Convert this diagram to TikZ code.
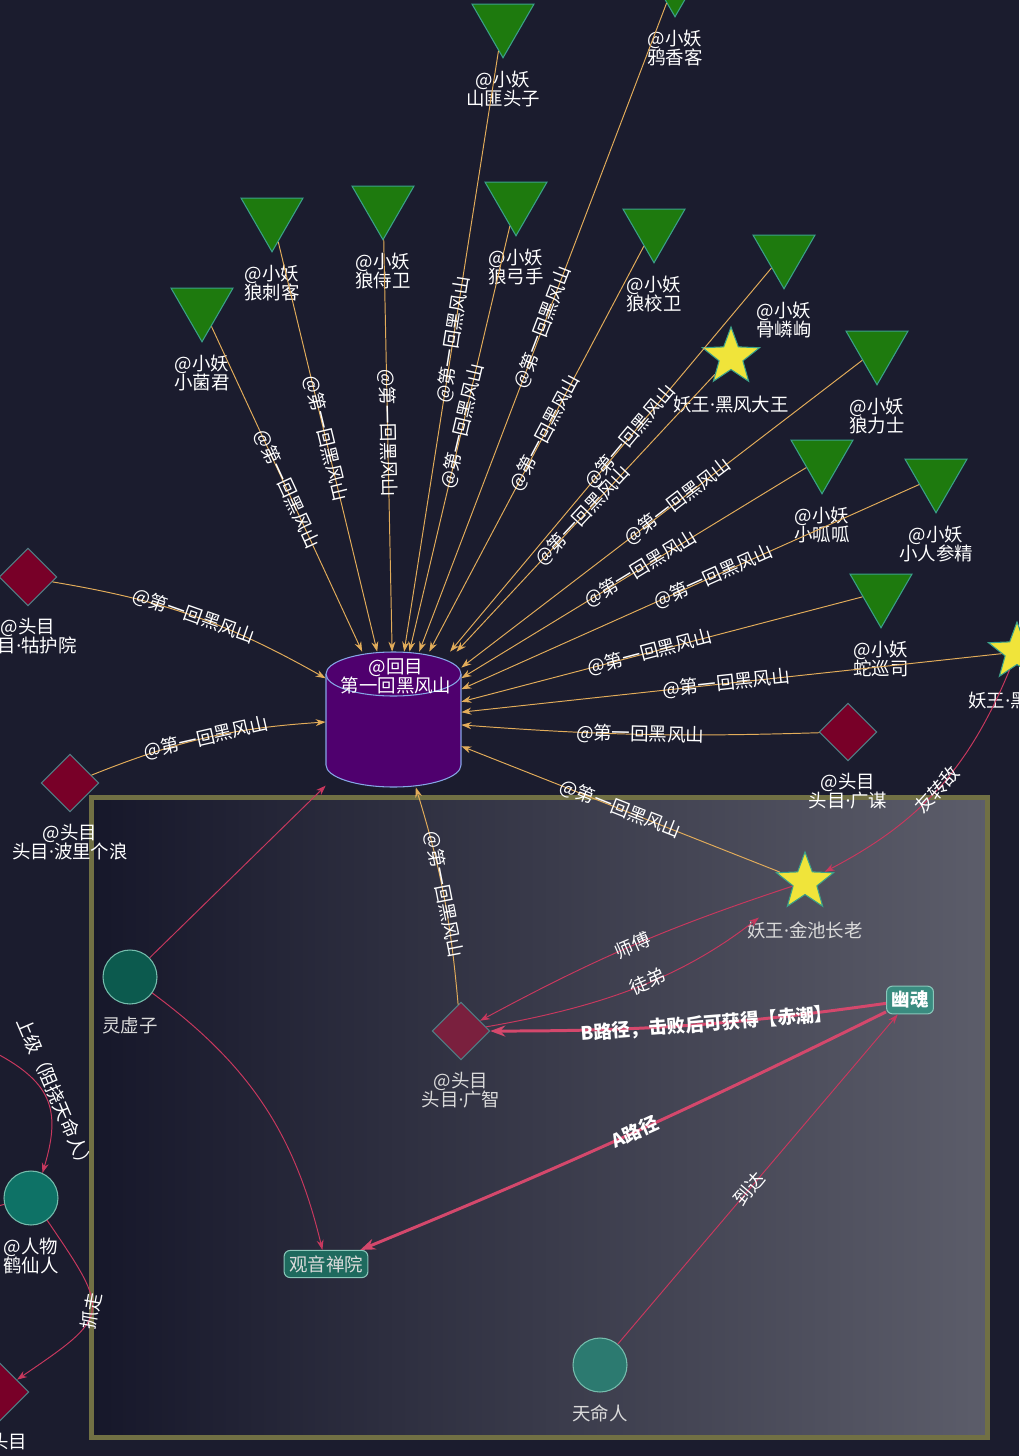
\documentclass[tikz,border=0pt]{standalone}
\usepackage{fontspec}
\setmainfont{Noto Sans CJK SC}
\newfontfamily\latinfont{Noto Sans}
\newcommand{\jiandian}{{\latinfont ·}}
\usetikzlibrary{arrows.meta,shapes.geometric}

\definecolor{bgnavy}{HTML}{1B1C2E}
\definecolor{minion}{HTML}{1E7A0E}
\definecolor{tealedge}{HTML}{3AA08A}
\definecolor{tealgrey}{HTML}{4F7F86}
\definecolor{staryellow}{HTML}{F0E43A}
\definecolor{bossred}{HTML}{780028}
\definecolor{cylpurple}{HTML}{4F006E}
\definecolor{cylblue}{HTML}{86A6E6}
\definecolor{gold}{HTML}{E2AC5A}
\definecolor{rose}{HTML}{C8385E}
\definecolor{rosethick}{HTML}{D4486C}
\definecolor{lxzteal}{HTML}{0C5A4E}
\definecolor{hxrteal}{HTML}{0E7266}
\definecolor{tmrteal}{HTML}{2C7A70}
\definecolor{youhunfill}{HTML}{3A8C80}
\definecolor{guanyinfill}{HTML}{1E6A5E}
\definecolor{frameolive}{HTML}{717044}
\definecolor{shadeleft}{HTML}{16172A}
\definecolor{shaderight}{HTML}{5C5D6A}
\definecolor{labelgrey}{HTML}{DADADA}

\begin{document}
\begin{tikzpicture}[x=0.02cm, y=-0.02cm, >={Stealth[length=0.2cm, width=0.14cm]}]
    \tikzstyle{nlbl} = [text=white, align=center, font=\fontsize{10.5}{10.8}\selectfont, inner sep=0.5pt]
    \tikzstyle{glbl} = [nlbl, text=labelgrey]
    \tikzstyle{dlbl} = [nlbl, yshift=-0.22cm]
    \tikzstyle{dglbl} = [glbl, yshift=-0.22cm]
    \tikzstyle{slbl} = [nlbl, yshift=-0.5cm]
    \tikzstyle{sglbl} = [glbl, yshift=-0.5cm]
    \tikzstyle{elbl} = [sloped, text=white, font=\fontsize{10.5}{10.8}\selectfont, inner sep=0.5pt]
    \tikzstyle{xiaoyao} = [regular polygon, regular polygon sides=3, shape border rotate=180, minimum size=1.43cm, inner sep=0pt, fill=minion, draw=tealedge, line width=0.6pt]
    \tikzstyle{yaowang} = [star, star points=5, star point ratio=2.4, minimum size=1.2cm, inner sep=0pt, fill=staryellow, draw=tealedge, line width=0.6pt]
    \tikzstyle{toumu} = [diamond, minimum width=1.15cm, minimum height=1.15cm, inner sep=0pt, fill=bossred, draw=tealgrey, line width=0.6pt]
    \tikzstyle{renwu} = [circle, minimum size=1.08cm, inner sep=0pt, draw=tealedge!70!white, line width=0.6pt]
    \tikzstyle{place} = [rectangle, rounded corners=0.12cm, inner sep=0.1cm, draw=tealedge!60!white, line width=0.6pt, text=white, font=\fontsize{10.5}{10.8}\selectfont]
    \tikzstyle{huiline} = [draw=gold, line width=0.55pt, ->]
    \tikzstyle{relline} = [draw=rose, line width=0.55pt, ->]
    \tikzstyle{pathline} = [draw=rosethick, line width=1.7pt, -{Stealth[length=0.3cm, width=0.22cm]}]

    \useasboundingbox (0,0) rectangle (1019,1456);
    \fill[bgnavy] (0,0) rectangle (1019,1456);
    \draw[line width=0.1cm, draw=frameolive, left color=shadeleft, right color=shaderight] (91,797) rectangle (987,1437);

    \filldraw[fill=cylpurple, draw=cylblue, line width=0.6pt] (326,674) -- (326,765) arc[start angle=180, end angle=0, x radius=67.5, y radius=22] -- (461,674);
    \filldraw[fill=cylpurple, draw=cylblue, line width=0.6pt] (393.5,674) ellipse (67.5 and 22);
    \node [minimum width=2.7cm, minimum height=2.7cm, inner sep=0pt] (huimu) at (393.5,719.5) {};
    \node [nlbl] (huimulbl) at (396,676) {@回目\\第一回黑风山};

    \node [xiaoyao, label={[dlbl]below:{@小妖\\山匪头子}}] (shanfei) at (503,22) {};
    \node [xiaoyao, label={[dlbl]below:{@小妖\\鸦香客}}] (yaxiang) at (675,-19) {};
    \node [xiaoyao, label={[dlbl]below:{@小妖\\狼刺客}}] (langcike) at (272,216) {};
    \node [xiaoyao, label={[dlbl]below:{@小妖\\狼侍卫}}] (langshiwei) at (383,204) {};
    \node [xiaoyao, label={[dlbl]below:{@小妖\\狼弓手}}] (langgong) at (516,200) {};
    \node [xiaoyao, label={[dlbl]below:{@小妖\\狼校卫}}] (langxiao) at (654,227) {};
    \node [xiaoyao, label={[dlbl]below:{@小妖\\小菌君}}] (xiaojun) at (202,306) {};
    \node [xiaoyao, label={[dlbl]below:{@小妖\\骨嶙峋}}] (gulin) at (784,253) {};
    \node [xiaoyao, label={[dlbl]below:{@小妖\\狼力士}}] (langli) at (877,349) {};
    \node [xiaoyao, label={[dlbl]below:{@小妖\\小呱呱}}] (xiaogua) at (822,458) {};
    \node [xiaoyao, label={[dlbl]below:{@小妖\\小人参精}}] (renshen) at (936,477) {};
    \node [xiaoyao, label={[dlbl]below:{@小妖\\蛇巡司}}] (shexun) at (881,592) {};

    \node [yaowang, label={[slbl]below:妖王\jiandian 黑风大王}] (heifeng) at (731,357) {};
    \node [yaowang, label={[slbl]below:妖王\jiandian 黑熊精}] (heixiong) at (1017,652) {};
    \node [yaowang, label={[sglbl]below:妖王\jiandian 金池长老}] (jinchi) at (805,882) {};

    \node [toumu, label={[dlbl]below:{@头目\\头目\jiandian 牯护院}}] (guhu) at (28,577) {};
    \node [toumu, label={[dlbl]below:{@头目\\头目\jiandian 波里个浪}}] (boli) at (70,783) {};
    \node [toumu, label={[dlbl]below:{@头目\\头目\jiandian 广谋}}] (guangmou) at (848,732) {};
    \node [toumu, fill=bossred!75!gray, label={[dglbl]below:{@头目\\头目\jiandian 广智}}] (guangzhi) at (461,1031) {};
    \node [toumu, label={[dlbl]below:{@头目}}] (toumuxia) at (0,1392) {};

    \node [renwu, fill=lxzteal, label={[dglbl]below:灵虚子}] (lingxu) at (130,977) {};
    \node [renwu, fill=hxrteal, label={[dlbl]below:{@人物\\鹤仙人}}] (hexian) at (31,1198) {};
    \node [renwu, fill=tmrteal, label={[dglbl]below:天命人}] (tianming) at (600,1365) {};

    \node [place, fill=youhunfill, font=\fontsize{10.5}{10.8}\selectfont\bfseries] (youhun) at (910,1000) {幽魂};
    \node [place, fill=guanyinfill, text=labelgrey] (guanyin) at (326,1264) {观音禅院};

    \coordinate (leftin) at (-10,1050);
    \coordinate (leftout) at (-40,1215);

    \draw [huiline] (xiaojun) -- node[elbl, pos=.5] {@第一回黑风山} (huimu);
    \draw [huiline] (langcike) -- node[elbl, pos=.48] {@第一回黑风山} (huimu);
    \draw [huiline] (langshiwei) -- node[elbl, pos=.47] {@第一回黑风山} (huimu);
    \draw [huiline] (shanfei) -- node[elbl, pos=.48] {@第一回黑风山} (huimu);
    \draw [huiline] (langgong) -- node[elbl, pos=.47] {@第一回黑风山} (huimu);
    \draw [huiline] (yaxiang) -- node[elbl, pos=.5] {@第一回黑风山} (huimu);
    \draw [huiline] (langxiao) -- node[elbl, pos=.46] {@第一回黑风山} (huimu);
    \draw [huiline] (gulin) -- node[elbl, pos=.44] {@第一回黑风山} (huimu);
    \draw [huiline] (heifeng) -- node[elbl, pos=.51] {@第一回黑风山} (huimu);
    \draw [huiline] (langli) -- node[elbl, pos=.46] {@第一回黑风山} (huimu);
    \draw [huiline] (xiaogua) -- node[elbl, pos=.48] {@第一回黑风山} (huimu);
    \draw [huiline] (renshen) -- node[elbl, pos=.45] {@第一回黑风山} (huimu);
    \draw [huiline] (shexun) -- node[elbl, pos=.53] {@第一回黑风山} (huimu);
    \draw [huiline] (heixiong) -- node[elbl, pos=.51] {@第一回黑风山} (huimu);
    \draw [huiline] (guangmou) to[bend left=3] node[elbl] {@第一回黑风山} (huimu);
    \draw [huiline] (jinchi) -- node[elbl] {@第一回黑风山} (huimu);
    \draw [huiline] (guangzhi) to[bend right=6] node[elbl] {@第一回黑风山} (huimu);
    \draw [huiline] (guhu) to[bend left=10] node[elbl] {@第一回黑风山} (huimu);
    \draw [huiline] (boli) to[bend left=9] node[elbl] {@第一回黑风山} (huimu);

    \draw [relline] (lingxu) -- (huimu);
    \draw [relline] (lingxu) to[bend left=20] (guanyin);
    \draw [pathline] (youhun) to[bend left=2] node[elbl, pos=.48, font=\fontsize{10.5}{10.8}\selectfont\bfseries] {A路径} (guanyin);
    \draw [pathline] (youhun) to[bend left=4] node[elbl, pos=.45, font=\fontsize{10.5}{10.8}\selectfont\bfseries] {B路径，击败后可获得【赤潮】} (guangzhi);
    \draw [relline] (tianming) -- node[elbl, pos=.47] {到达} (youhun);
    \draw [relline] (jinchi) to[bend right=5] node[elbl] {师傅} (guangzhi);
    \draw [relline, shorten >=0.8cm] (guangzhi) to[bend right=14] node[elbl] {徒弟} (jinchi);
    \draw [relline] (heixiong) to[bend left=20] node[elbl] {友转敌} (jinchi);
    \draw [relline] (leftin) to[bend left=40, looseness=1.3] node[elbl, above, pos=.5] {上级（阻挠天命人）} (hexian);
    \draw [draw=rose, line width=0.55pt] (leftout) -- (hexian);
    \draw [relline] (hexian) to[bend left=45, looseness=1.8] node[elbl] {抓走} (toumuxia);
\end{tikzpicture}
\end{document}
